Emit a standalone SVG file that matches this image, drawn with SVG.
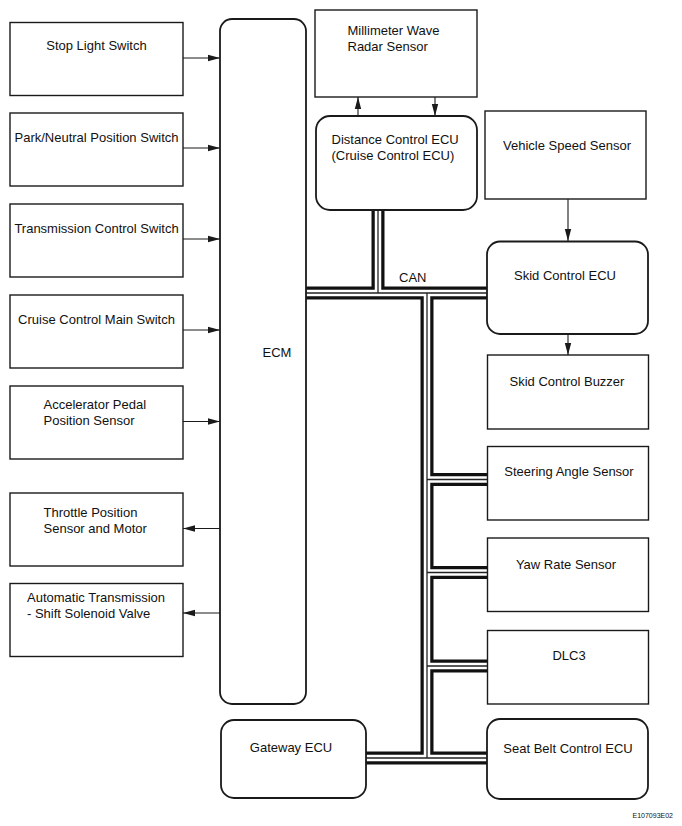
<svg xmlns="http://www.w3.org/2000/svg" width="682" height="826" viewBox="0 0 682 826">
<style>
.box{fill:#fff;stroke:#1a1a1a;stroke-width:1.4}
.ecu{fill:#fff;stroke:#1a1a1a;stroke-width:1.8}
text{font-family:"Liberation Sans",Arial,sans-serif;font-size:13px;fill:#111}
.m{text-anchor:middle}
.arr{stroke:#1a1a1a;stroke-width:1.1;fill:none;marker-end:url(#ah)}
.bk{stroke:#111;stroke-width:13;fill:none}
.wh{stroke:#fff;stroke-width:6.5;fill:none}
.cn{stroke:#222;stroke-width:1.3;fill:none}
</style>
<defs>
<marker id="ah" viewBox="0 0 12 8" refX="12" refY="4" markerWidth="12" markerHeight="8" markerUnits="userSpaceOnUse" orient="auto">
<path d="M0,0.8 L12,4 L0,7.2 Z" fill="#1a1a1a"/>
</marker>
</defs>
<rect width="682" height="826" fill="#fff"/>
<g id="connectors">
<line class="arr" x1="183" y1="58" x2="220" y2="58"/>
<line class="arr" x1="183" y1="148" x2="220" y2="148"/>
<line class="arr" x1="183" y1="239" x2="220" y2="239"/>
<line class="arr" x1="183" y1="330" x2="220" y2="330"/>
<line class="arr" x1="183" y1="421.5" x2="220" y2="421.5"/>
<line class="arr" x1="220" y1="528.5" x2="183" y2="528.5"/>
<line class="arr" x1="220" y1="613" x2="183" y2="613"/>
<line class="arr" x1="358" y1="116" x2="358" y2="97"/>
<line class="arr" x1="435" y1="97" x2="435" y2="116"/>
<line class="arr" x1="568" y1="199" x2="568" y2="241"/>
<line class="arr" x1="568" y1="334" x2="568" y2="355"/>
<g id="can-bus">
<g class="bk">
<path d="M306,293 H487"/><path d="M378,210 V293"/><path d="M427,293 V758"/>
<path d="M427,479.5 H487"/><path d="M427,572.5 H487"/><path d="M427,666 H487"/><path d="M366,758 H487"/>
</g>
<g class="wh">
<path d="M306,293 H487"/><path d="M378,210 V293"/><path d="M427,293 V758"/>
<path d="M427,479.5 H487"/><path d="M427,572.5 H487"/><path d="M427,666 H487"/><path d="M366,758 H487"/>
</g>
<g class="cn">
<path d="M306,293 H487"/><path d="M378,210 V293"/><path d="M427,293 V758"/>
<path d="M427,479.5 H487"/><path d="M427,572.5 H487"/><path d="M427,666 H487"/><path d="M366,758 H487"/>
</g>
</g>
<text x="399" y="282">CAN</text>
</g>
<g id="stop-light-switch"><rect class="box" x="10" y="22.5" width="173" height="73"/><text class="m" x="96.5" y="49.5">Stop Light Switch</text></g>
<g id="park-neutral-switch"><rect class="box" x="10" y="113" width="173" height="73"/><text class="m" x="96.5" y="141.5">Park/Neutral Position Switch</text></g>
<g id="transmission-control-switch"><rect class="box" x="10" y="204" width="173" height="73"/><text class="m" x="96.5" y="232.5">Transmission Control Switch</text></g>
<g id="cruise-main-switch"><rect class="box" x="10" y="295" width="173" height="73"/><text class="m" x="96.5" y="324">Cruise Control Main Switch</text></g>
<g id="accelerator-sensor"><rect class="box" x="10" y="386" width="173" height="73"/><text x="43.5" y="409">Accelerator Pedal</text><text x="43.5" y="425">Position Sensor</text></g>
<g id="throttle-sensor-motor"><rect class="box" x="10" y="493" width="173" height="73"/><text x="43.5" y="516.5">Throttle Position</text><text x="43.5" y="532.5">Sensor and Motor</text></g>
<g id="shift-solenoid"><rect class="box" x="10" y="583.5" width="173" height="73"/><text x="27" y="601.5">Automatic Transmission</text><text x="27" y="617.5">- Shift Solenoid Valve</text></g>
<g id="ecm"><rect class="ecu" x="220" y="19" width="86" height="685" rx="12"/><text class="m" x="277" y="357">ECM</text></g>
<g id="radar-sensor"><rect class="box" x="315" y="10" width="162" height="87"/><text x="347.5" y="35">Millimeter Wave</text><text x="347.5" y="51">Radar Sensor</text></g>
<g id="distance-control-ecu"><rect class="ecu" x="316" y="116" width="161" height="94" rx="14"/><text x="331.5" y="143.5">Distance Control ECU</text><text x="331.5" y="160">(Cruise Control ECU)</text></g>
<g id="vehicle-speed-sensor"><rect class="box" x="485" y="111" width="161" height="88"/><text class="m" x="567" y="150">Vehicle Speed Sensor</text></g>
<g id="skid-control-ecu"><rect class="ecu" x="487" y="241.5" width="161" height="92.5" rx="13"/><text class="m" x="565" y="279.5">Skid Control ECU</text></g>
<g id="skid-control-buzzer"><rect class="box" x="487.5" y="355" width="161" height="74"/><text class="m" x="567" y="386">Skid Control Buzzer</text></g>
<g id="steering-angle-sensor"><rect class="box" x="487.5" y="446.5" width="161" height="73.5"/><text class="m" x="569" y="476">Steering Angle Sensor</text></g>
<g id="yaw-rate-sensor"><rect class="box" x="487.5" y="538" width="161" height="73.5"/><text class="m" x="566" y="568.5">Yaw Rate Sensor</text></g>
<g id="dlc3"><rect class="box" x="487.5" y="630.5" width="161" height="73.5"/><text class="m" x="569" y="660">DLC3</text></g>
<g id="seat-belt-control-ecu"><rect class="ecu" x="487" y="719" width="161" height="80" rx="13"/><text class="m" x="568" y="753">Seat Belt Control ECU</text></g>
<g id="gateway-ecu"><rect class="ecu" x="221" y="720" width="145" height="78" rx="13"/><text class="m" x="291" y="752">Gateway ECU</text></g>
<text x="673" y="818" style="font-size:7px;text-anchor:end">E107093E02</text>
</svg>
